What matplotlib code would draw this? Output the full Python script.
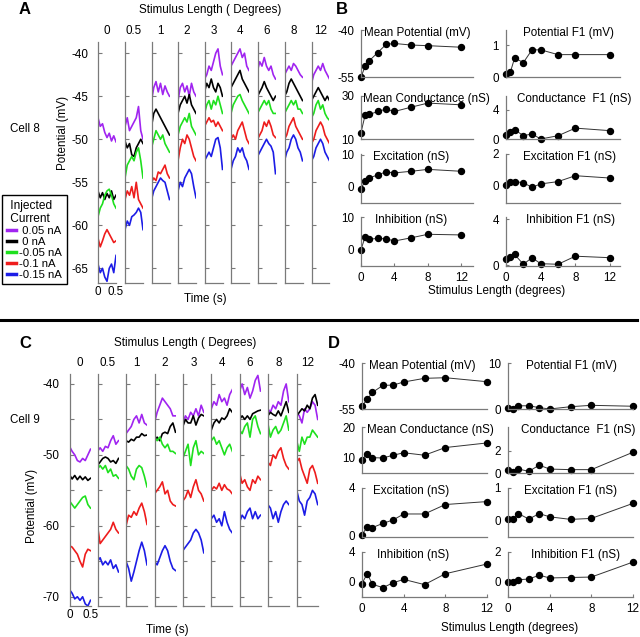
import numpy as np
import matplotlib.pyplot as plt
from matplotlib.lines import Line2D

plt.rcParams['font.family'] = ['Liberation Sans', 'DejaVu Sans']
plt.rcParams['font.size'] = 8.4
plt.rcParams['axes.unicode_minus'] = False

# Stimulus conditions and injected currents
stim_labels = ['0', '0.5', '1', '2', '3', '4', '6', '8', '12']
stim_len = [0, 0.5, 1, 2, 3, 4, 6, 8, 12]
currents = [' 0.05 nA', ' 0 nA', '-0.05 nA', '-0.1 nA', '-0.15 nA']
trace_colors = ['#a024f0', '#000000', '#1ee01e', '#ee1c1c', '#1c1ce6']

# Cell 8 membrane potential traces (mV), one list per stimulus length
a_purple = [
    [-47.5, -48.5, -48.2, -49.2, -49.8, -49.3, -50.2, -49.6, -50.3],
    [-48.5, -47.5, -49.0, -48.5, -48.0, -47.5, -46.2, -49.0, -50.0],
    [-45.5, -44.0, -43.3, -44.5, -43.5, -44.8, -43.8, -44.5, -45.0],
    [-45.5, -44.0, -43.5, -44.5, -43.8, -45.0, -43.5, -44.5, -45.0],
    [-43.0, -42.5, -41.5, -42.0, -41.0, -40.0, -39.5, -41.5, -42.5],
    [-41.5, -41.0, -40.5, -40.0, -39.5, -40.5, -40.0, -41.5, -42.0],
    [-42.0, -41.0, -41.5, -40.5, -41.5, -42.0, -41.5, -42.5, -43.0],
    [-42.5, -42.0, -41.5, -42.0, -41.2, -41.5, -42.0, -42.5, -42.8],
    [-43.5, -42.5, -42.0, -41.5, -42.0, -41.2, -42.0, -42.5, -43.0],
]
a_black = [
    [-56.0, -56.8, -56.2, -57.0, -56.3, -56.8, -56.0, -57.0, -56.5],
    [-50.2, -51.0, -50.5, -51.8, -52.0, -51.0, -50.5, -50.0, -50.5],
    [-48.5, -47.0, -46.5, -47.0, -47.5, -48.0, -48.5, -49.0, -49.5],
    [-47.0, -46.0, -45.5, -45.0, -45.8, -44.8, -46.0, -46.5, -47.0],
    [-44.5, -43.5, -44.0, -43.0, -44.0, -44.5, -43.5, -44.0, -45.0],
    [-44.0, -43.5, -43.0, -42.5, -42.0, -43.0, -43.5, -44.0, -44.5],
    [-45.0, -44.5, -44.0, -43.3, -44.0, -44.5, -45.0, -45.5, -45.0],
    [-45.0, -44.5, -43.5, -43.0, -43.5, -44.0, -44.5, -45.0, -45.5],
    [-45.5, -45.0, -44.5, -44.0, -44.5, -45.0, -45.5, -45.0, -45.5],
]
a_green = [
    [-59.0, -58.0, -57.5, -56.5, -56.0, -55.8, -56.5, -57.5, -58.0],
    [-54.5, -53.0, -52.5, -52.0, -52.5, -51.5, -51.0, -52.5, -54.5],
    [-51.0, -50.0, -49.0, -49.5, -50.0, -49.5, -50.5, -51.0, -51.5],
    [-49.5, -48.5, -48.0, -47.5, -48.0, -47.0, -48.5, -49.0, -49.5],
    [-47.0, -46.0, -45.5, -46.5, -45.5, -46.0, -45.0, -46.0, -47.0],
    [-47.0, -46.0, -45.5, -45.0, -44.8, -45.5, -46.0, -46.5, -47.0],
    [-47.0, -46.5, -46.0, -45.5, -46.0, -45.5, -46.5, -47.0, -47.0],
    [-47.0, -46.5, -46.0, -45.5, -46.0, -45.5, -46.5, -46.5, -47.0],
    [-47.5, -47.0, -46.0, -45.5, -46.5, -46.0, -47.0, -47.5, -47.8],
]
a_red = [
    [-61.5, -62.5, -61.8, -61.0, -60.5, -61.0, -61.5, -62.0, -61.8],
    [-57.0, -56.0, -56.5, -55.5, -56.8, -55.0, -57.0, -57.5, -58.0],
    [-55.0, -54.5, -54.8, -53.8, -54.0, -53.5, -53.0, -54.0, -54.5],
    [-52.5, -51.0, -50.0, -50.5, -49.5, -50.0, -51.0, -52.0, -52.5],
    [-48.5, -48.0, -47.5, -48.0, -47.8, -48.5, -48.0, -48.5, -49.0],
    [-50.0, -49.5, -50.0, -49.0, -48.5, -48.0, -49.0, -50.0, -50.5],
    [-50.0, -49.5, -49.0, -48.0, -48.5, -47.8, -48.5, -49.5, -49.8],
    [-50.0, -49.5, -48.5, -48.0, -47.5, -48.5, -49.0, -49.5, -50.0],
    [-50.5, -50.0, -49.0, -48.5, -48.0, -48.5, -49.5, -50.0, -50.5],
]
a_blue = [
    [-64.5, -65.5, -65.0, -66.0, -66.5, -65.0, -64.5, -65.5, -63.5],
    [-60.5, -59.5, -60.0, -59.0, -58.8, -58.5, -58.0, -58.5, -60.5],
    [-57.0, -56.0, -55.5, -55.0, -54.5, -54.8, -55.0, -56.0, -57.0],
    [-56.0, -55.0, -55.5, -54.5, -54.0, -53.5, -54.0, -55.5, -56.8],
    [-52.5, -52.0, -51.5, -52.0, -51.0, -50.0, -49.8, -51.0, -53.5],
    [-53.5, -52.5, -52.0, -51.0, -51.5, -51.0, -52.0, -52.5, -53.5],
    [-52.0, -51.5, -51.0, -50.5, -50.0, -50.5, -50.8, -51.5, -54.0],
    [-52.5, -51.5, -51.0, -50.0, -49.5, -50.0, -51.0, -51.5, -52.5],
    [-52.5, -52.0, -51.0, -50.5, -50.0, -50.5, -51.5, -52.0, -52.5],
]

# Cell 9 membrane potential traces (mV)
c_purple = [
    [-48.8, -49.5, -50.0, -50.8, -51.0, -50.5, -50.8, -50.0, -49.2],
    [-49.5, -49.0, -49.5, -48.8, -49.0, -48.0, -47.3, -48.5, -48.0],
    [-47.0, -46.5, -46.0, -45.0, -44.5, -45.5, -44.3, -45.5, -45.8],
    [-45.5, -44.0, -43.0, -42.0, -42.5, -43.0, -43.5, -44.5, -44.5],
    [-45.5, -44.5, -45.0, -44.0, -44.5, -43.5, -44.5, -43.0, -44.0],
    [-43.5, -42.5, -43.0, -41.5, -42.5, -42.0, -43.0, -41.5, -40.8],
    [-41.0, -40.0, -41.5, -40.5, -42.0, -41.0, -39.5, -38.8, -41.0],
    [-43.5, -44.0, -43.0, -43.5, -42.5, -43.0, -41.0, -40.0, -42.5],
    [-44.0, -44.5, -45.5, -43.5, -44.0, -43.5, -42.5, -43.0, -45.0],
]
c_black = [
    [-52.8, -53.4, -52.9, -53.5, -53.0, -53.5, -53.1, -53.6, -53.3],
    [-51.5, -51.0, -50.5, -50.3, -50.5, -51.0, -50.8, -51.2, -50.5],
    [-48.0, -48.2, -47.8, -48.0, -47.5, -47.5, -47.0, -47.3, -47.2],
    [-48.0, -47.5, -48.0, -47.0, -46.8, -47.0, -46.0, -45.5, -46.8],
    [-46.0, -45.0, -45.5, -45.5, -44.5, -45.8, -44.8, -44.3, -44.5],
    [-46.5, -45.5, -45.0, -45.5, -44.8, -45.0, -44.5, -43.5, -44.0],
    [-45.0, -44.5, -45.0, -44.5, -45.0, -44.2, -44.0, -43.8, -43.7],
    [-44.5, -44.0, -44.3, -44.5, -43.8, -44.5, -43.5, -42.5, -44.0],
    [-44.5, -44.0, -43.5, -43.8, -43.0, -43.5, -42.0, -41.5, -43.0],
]
c_green = [
    [-56.5, -57.0, -57.5, -57.0, -56.5, -56.0, -55.8, -57.0, -57.5],
    [-52.0, -51.5, -52.0, -51.5, -52.5, -52.0, -53.0, -52.8, -53.3],
    [-51.5, -52.0, -53.0, -53.5, -52.0, -51.5, -51.8, -53.0, -54.5],
    [-47.5, -48.0, -47.5, -48.5, -49.0, -48.5, -49.5, -49.5, -49.8],
    [-50.5, -49.5, -48.5, -51.5, -49.0, -48.0, -50.0, -49.5, -49.8],
    [-48.0, -47.5, -48.5, -48.0, -49.0, -50.0, -49.0, -48.5, -49.5],
    [-46.5, -47.0, -46.0, -45.5, -47.5, -45.0, -44.5, -46.0, -47.0],
    [-45.5, -47.5, -46.5, -46.0, -47.0, -46.5, -45.5, -44.5, -46.5],
    [-48.0, -49.5, -47.5, -48.5, -47.5, -47.5, -46.5, -47.0, -47.5],
]
c_red = [
    [-62.8, -63.0, -63.5, -64.0, -65.0, -65.8, -64.0, -63.3, -63.5],
    [-60.0, -62.5, -62.0, -61.5, -61.0, -60.5, -59.5, -60.5, -61.0],
    [-60.0, -58.5, -58.8, -58.0, -58.5, -57.5, -56.8, -58.0, -59.8],
    [-55.5, -55.0, -54.5, -53.8, -55.5, -55.0, -56.5, -57.0, -57.2],
    [-56.5, -56.0, -55.0, -56.0, -54.5, -53.5, -55.0, -55.5, -56.5],
    [-55.0, -54.5, -54.8, -54.0, -55.0, -54.2, -54.8, -55.0, -55.5],
    [-52.5, -54.0, -53.5, -54.5, -55.0, -53.5, -54.0, -53.0, -53.5],
    [-51.0, -51.5, -50.0, -50.5, -49.5, -49.0, -50.5, -51.5, -52.0],
    [-51.0, -50.5, -52.0, -53.0, -54.0, -52.0, -51.5, -52.5, -54.0],
]
c_blue = [
    [-69.0, -69.5, -70.3, -70.0, -70.5, -70.0, -71.0, -71.3, -70.5],
    [-65.0, -64.5, -65.5, -65.0, -65.5, -64.8, -66.0, -65.5, -66.5],
    [-65.0, -66.0, -67.8, -66.5, -65.0, -63.5, -62.3, -63.5, -65.5],
    [-65.0, -65.5, -64.5, -63.5, -62.8, -63.5, -65.0, -66.0, -66.3],
    [-63.5, -63.0, -62.5, -62.0, -61.0, -60.5, -61.0, -62.0, -63.8],
    [-59.0, -58.5, -59.5, -59.0, -60.0, -58.0, -59.5, -60.5, -61.0],
    [-59.5, -58.5, -59.0, -58.0, -57.5, -59.0, -58.0, -59.0, -58.5],
    [-57.0, -57.5, -59.0, -58.0, -59.5, -58.0, -57.0, -56.5, -57.0],
    [-55.0, -56.5, -57.0, -58.5, -56.5, -56.0, -55.0, -55.5, -57.0],
]

# Summary values vs stimulus length, cell 8 (B)
b_mean_pot = [-55.0, -51.6, -49.8, -47.2, -44.6, -44.3, -44.8, -45.0, -45.5]
b_mean_cond = [13.0, 21.2, 21.4, 22.8, 23.9, 22.8, 24.8, 26.7, 25.9]
b_exc = [-0.5, 1.9, 2.8, 3.8, 4.7, 4.4, 4.9, 5.5, 4.9]
b_inh = [-0.2, 3.85, 3.1, 3.3, 3.2, 2.5, 3.5, 4.6, 4.4]
b_pot_f1 = [0.1, 0.15, 0.6, 0.45, 0.85, 0.85, 0.7, 0.7, 0.7]
b_cond_f1 = [0.6, 0.9, 1.3, 0.45, 0.7, 0.0, 0.45, 1.5, 1.15]
b_exc_f1 = [0.0, 0.2, 0.22, 0.15, -0.15, 0.07, 0.22, 0.6, 0.45]
b_inh_f1 = [0.58, 0.72, 0.95, 0.1, 0.67, 0.15, 0.1, 0.8, 0.67]

# Summary values vs stimulus length, cell 9 (D)
d_mean_pot = [-54.1, -51.8, -49.6, -47.3, -47.2, -46.2, -45.0, -44.8, -46.1]
d_mean_cond = [9.3, 11.3, 10.0, 9.9, 10.8, 11.6, 10.8, 13.3, 14.8]
d_exc = [0.05, 0.7, 0.65, 1.0, 1.3, 1.8, 1.8, 2.6, 2.85]
d_inh = [-0.2, 1.1, -0.3, -0.75, -0.1, 0.35, -0.35, 1.1, 2.4]
d_pot_f1 = [0.2, 0.0, 0.7, 0.7, 0.3, 0.0, 0.5, 0.8, 0.6]
d_cond_f1 = [0.3, 0.05, 0.35, 0.15, 0.7, 0.35, 0.3, 0.3, 1.85]
d_exc_f1 = [0.02, 0.02, 0.2, 0.03, 0.2, 0.1, 0.02, 0.05, 0.52]
d_exc_f1_err = [0, 0, 0, 0, 0, 0, 0, 0, 0.08]
d_inh_f1 = [0.0, 0.0, 0.15, 0.2, 0.45, 0.27, 0.3, 0.33, 1.33]

W, H = 640, 637
fig = plt.figure(figsize=(W / 100, H / 100), dpi=100)
spine_gray = '#7a7a7a'


def px_axes(left, top, width, height):
    return fig.add_axes([left / W, 1 - (top + height) / H, width / W, height / H])


def px_text(x, y, s, **kw):
    kw.setdefault('ha', 'center')
    kw.setdefault('va', 'center')
    fig.text(x / W, 1 - y / H, s, **kw)


def style_axes(ax):
    ax.patch.set_alpha(0)
    for side in ['top', 'right']:
        ax.spines[side].set_visible(False)
    for side in ['left', 'bottom']:
        ax.spines[side].set_color(spine_gray)
        ax.spines[side].set_linewidth(0.9)


def trace_block(lefts, top, bottom, width, ylim, yticks, ylabels, traces, col_y):
    for i, left in enumerate(lefts):
        ax = px_axes(left, top, width, bottom - top)
        for color, series in zip(trace_colors, traces):
            vals = series[i]
            t = np.linspace(0, 0.5, len(vals))
            ax.plot(t, vals, color=color, lw=1.2)
        ax.set_xlim(0, 0.5)
        ax.set_ylim(*ylim)
        style_axes(ax)
        ax.set_yticks(yticks)
        ax.tick_params(axis='y', direction='in', length=3, color=spine_gray, pad=7)
        if i == 0:
            ax.set_yticklabels(ylabels)
            ax.set_xticks([0, 0.5])
            ax.set_xticklabels(['0', '0.5'])
            ax.tick_params(axis='x', length=0, pad=2)
        else:
            ax.set_yticklabels([])
            ax.set_xticks([])
        px_text(left + width / 2, col_y, stim_labels[i])


def summary(left, top, width, height, xmax, ylim, yticks, vals, title, tx, bottom_row, err=None):
    ax = px_axes(left, top, width, height)
    ax.plot(stim_len, vals, '-', color='#333333', lw=0.7, clip_on=False)
    ax.errorbar(stim_len, vals, yerr=err, fmt='o', color='k', ms=4.3, elinewidth=0.8,
                capsize=0, clip_on=False)
    ax.set_xlim(0, xmax)
    ax.set_ylim(*ylim)
    style_axes(ax)
    ax.set_yticks(yticks)
    ax.set_yticklabels([f'{v:g}' for v in yticks])
    ax.tick_params(axis='y', direction='in', length=2, color=spine_gray, pad=5)
    if bottom_row:
        ax.set_xticks([0, 4, 8, 12])
        ax.tick_params(axis='x', direction='in', length=2, color=spine_gray, pad=4)
    else:
        ax.set_xticks([])
    ax.text(tx, 1 - 3 / height, title, transform=ax.transAxes, ha='center', va='center')


# ---- Panel A: cell 8 traces
a_lefts = [98, 125, 151.5, 178, 204.5, 231, 257.5, 284.5, 311.5]
trace_block(a_lefts, 42, 283, 18, (-66.7, -38.7), [-65, -60, -55, -50, -45, -40],
            ['-65', '-60', '-55', '-50', '-45', '-40'],
            [a_purple, a_black, a_green, a_red, a_blue], 31)
px_text(25, 9, 'A', fontsize=12, fontweight='bold')
px_text(210, 10, 'Stimulus Length ( Degrees)')
px_text(205, 299, 'Time (s)')
px_text(63, 133, 'Potential (mV)', rotation=90)
px_text(25, 129, 'Cell 8')

handles = [Line2D([], [], color=c, lw=2.5) for c in trace_colors]
fig.legend(handles, currents, title=' Injected\n Current', loc='upper left',
           bbox_to_anchor=(2 / W, 1 - 195 / H), borderaxespad=0, fontsize=8.2,
           title_fontsize=8.6, alignment='left', fancybox=False, edgecolor='k',
           framealpha=1, handlelength=0.8, handletextpad=0.3, labelspacing=0.08,
           borderpad=0.4)

# ---- Panel C: cell 9 traces
c_lefts = [69.5, 97.5, 126, 154.5, 182.8, 211.3, 239.5, 267.8, 296.7]
trace_block(c_lefts, 374, 606, 21, (-71.3, -38.6), [-70, -65, -60, -55, -50, -45, -40],
            ['-70', '', '-60', '', '-50', '', '-40'],
            [c_purple, c_black, c_green, c_red, c_blue], 363)
px_text(25, 343, 'C', fontsize=12, fontweight='bold')
px_text(185, 343, 'Stimulus Length ( Degrees)')
px_text(167, 630, 'Time (s)')
px_text(32, 506, 'Potential (mV)', rotation=90)
px_text(25, 420, 'Cell 9')

# ---- Panel B: cell 8 summary
bl, br = 361, 506
summary(bl, 30, 112, 47, 13.4, (-55, -40), [-55, -40], b_mean_pot, 'Mean Potential (mV)', 0.5, False)
summary(bl, 96, 112, 43, 13.4, (10, 30), [10, 30], b_mean_cond, 'Mean Conductance (nS)', 0.58, False)
summary(bl, 154, 112, 49, 13.4, (-5, 10.3), [0, 10], b_exc, 'Excitation (nS)', 0.45, False)
summary(bl, 217, 112, 49, 13.4, (-5.3, 10), [0, 10], b_inh, 'Inhibition (nS)', 0.45, True)
summary(br, 30, 114, 47, 13.15, (0, 1.47), [0, 1], b_pot_f1, 'Potential F1 (mV)', 0.55, False)
summary(br, 96, 114, 43, 13.15, (0, 5.93), [0, 4], b_cond_f1, 'Conductance  F1 (nS)', 0.6, False)
summary(br, 154, 114, 49, 13.15, (-1.16, 2), [0, 2], b_exc_f1, 'Excitation F1 (nS)', 0.56, False)
summary(br, 217, 114, 49, 13.15, (-0.05, 4.2), [0, 4], b_inh_f1, 'Inhibition F1 (nS)', 0.57, True)
px_text(342, 9, 'B', fontsize=12, fontweight='bold')
px_text(497, 291, 'Stimulus Length (degrees)')

# ---- Panel D: cell 9 summary
dl, dr = 362, 508
summary(dl, 363, 125, 46, 12, (-55, -40), [-55, -40], d_mean_pot, 'Mean Potential (mV)', 0.48, False)
summary(dl, 427, 125, 46, 12, (5, 20), [10, 20], d_mean_cond, 'Mean Conductance (nS)', 0.55, False)
summary(dl, 488, 125, 49, 12, (-0.15, 4), [0, 4], d_exc, 'Excitation (nS)', 0.39, False)
summary(dl, 552, 125, 45, 12, (-2, 4), [0, 4], d_inh, 'Inhibition (nS)', 0.41, True)
summary(dr, 363, 125, 46, 12, (0, 10), [0, 10], d_pot_f1, 'Potential F1 (mV)', 0.51, False)
summary(dr, 427, 125, 46, 12, (0, 4.1), [0, 2], d_cond_f1, 'Conductance  F1 (nS)', 0.56, False)
summary(dr, 488, 125, 49, 12, (-0.53, 1), [0, 1], d_exc_f1, 'Excitation F1 (nS)', 0.5, False,
        err=d_exc_f1_err)
summary(dr, 552, 125, 45, 12, (-1, 2), [0, 2], d_inh_f1, 'Inhibition F1 (nS)', 0.54, True)
px_text(334, 343, 'D', fontsize=12, fontweight='bold')
px_text(510, 628, 'Stimulus Length (degrees)')

# separator between the two cells
fig.add_artist(Line2D([0, 637 / W], [1 - 320 / H, 1 - 320 / H], color='k', lw=2.2))

fig.savefig('out.png', dpi=100)
